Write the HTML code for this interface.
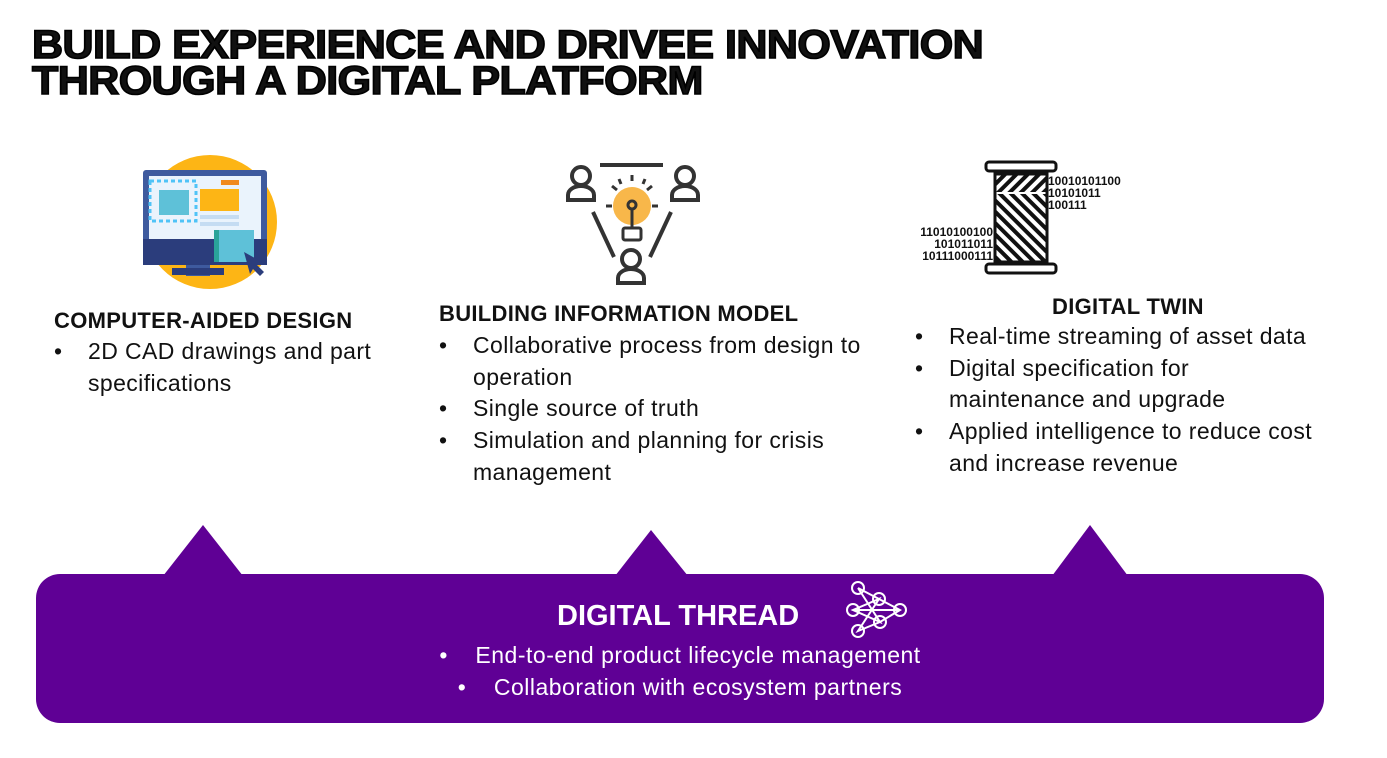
<!DOCTYPE html>
<html><head><meta charset="utf-8"><style>
body{margin:0;width:1387px;height:758px;background:#fff;position:relative;overflow:hidden;font-family:"Liberation Sans",sans-serif;color:#111}
.t{position:absolute;left:32px;font-weight:900;font-size:40px;line-height:36px;letter-spacing:-0.5px;-webkit-text-stroke:1.6px #000;transform-origin:0 0;white-space:nowrap}
.h{position:absolute;font-weight:bold;font-size:22px;letter-spacing:0.3px;white-space:nowrap}
.l{position:absolute;font-size:23px;letter-spacing:0.4px;line-height:31.7px;margin:0;padding:0;list-style:none;white-space:nowrap}
.l li{position:relative;padding-left:34px}
.l li:before{content:"•";position:absolute;left:0}
</style></head><body>
<div class="t" style="top:27px;transform:scaleX(1.075)">BUILD EXPERIENCE AND DRIVEE INNOVATION<br>THROUGH A DIGITAL PLATFORM</div>

<svg width="1387" height="758" style="position:absolute;left:0;top:0">
<circle cx="210" cy="222" r="67" fill="#fdb515"/>
<rect x="143" y="170" width="124" height="95" rx="3" fill="#3e5a9e"/>
<rect x="149" y="176" width="112" height="63" fill="#eaf3fc"/>
<rect x="143" y="239" width="124" height="26" fill="#2b3d7c"/>
<rect x="186" y="265" width="24" height="11" fill="#3e5a9e"/>
<rect x="172" y="268" width="52" height="7" fill="#2b3d7c"/>
<rect x="159" y="190" width="30" height="25" fill="#5ec1d8"/>
<rect x="150" y="181" width="46" height="40" fill="none" stroke="#4fc3f7" stroke-width="3" stroke-dasharray="4 3"/>
<rect x="200" y="189" width="39" height="22" fill="#fdb515"/>
<rect x="200" y="215" width="39" height="4" fill="#c5dcf2"/><rect x="200" y="222" width="39" height="4" fill="#c5dcf2"/>
<rect x="221" y="180" width="18" height="5" fill="#f08a1e"/>
<rect x="214" y="230" width="40" height="32" fill="#5ec1d8"/>
<rect x="214" y="230" width="5" height="32" fill="#2aa39a"/>
<path d="M244 252 L262 262 L257 265 L264 272 L260 276 L253 269 L250 274Z" fill="#2b3d7c"/>
<g stroke="#333" stroke-width="4" fill="none">
<line x1="600" y1="165" x2="663" y2="165"/>
<circle cx="581" cy="176" r="9"/><path d="M568 200 v-5 a13 9 0 0 1 26 0 v5z"/>
<circle cx="685" cy="176" r="9"/><path d="M672 200 v-5 a13 9 0 0 1 26 0 v5z"/>
<circle cx="631" cy="259" r="9"/><path d="M618 283 v-5 a13 9 0 0 1 26 0 v5z"/>
<line x1="593" y1="212" x2="614" y2="257"/><line x1="671" y1="212" x2="650" y2="257"/>
</g>
<circle cx="632" cy="206" r="19" fill="#f8b74a"/>
<g stroke="#333" stroke-width="3" fill="none">
<circle cx="632" cy="205" r="4"/><line x1="632" y1="209" x2="632" y2="228"/>
<rect x="623" y="228" width="18" height="12" rx="2"/>
<line x1="632" y1="175" x2="632" y2="181"/><line x1="612" y1="206" x2="606" y2="206"/><line x1="652" y1="206" x2="658" y2="206"/>
<line x1="617" y1="190" x2="612" y2="186"/><line x1="647" y1="190" x2="652" y2="186"/>
<line x1="619" y1="179" x2="621" y2="184"/><line x1="645" y1="179" x2="643" y2="184"/>
</g>
<defs><pattern id="hp" width="8" height="8" patternUnits="userSpaceOnUse" patternTransform="rotate(45)"><rect width="4" height="8" fill="#111"/></pattern>
<pattern id="hn" width="8" height="8" patternUnits="userSpaceOnUse" patternTransform="rotate(-45)"><rect width="4" height="8" fill="#111"/></pattern></defs>
<rect x="986" y="162" width="70" height="9" rx="3" fill="none" stroke="#111" stroke-width="3"/>
<rect x="986" y="264" width="70" height="9" rx="3" fill="none" stroke="#111" stroke-width="3"/>
<rect x="995" y="174" width="52" height="88" fill="#fff" stroke="#111" stroke-width="3"/>
<rect x="996" y="175" width="50" height="17" fill="url(#hp)"/>
<rect x="996" y="194" width="50" height="67" fill="url(#hn)"/>
<g font-weight="bold" font-size="12" fill="#111" font-family="Liberation Sans">
<text x="1048" y="185">10010101100</text><text x="1048" y="197">10101011</text><text x="1048" y="209">100111</text>
<text x="993" y="236" text-anchor="end">11010100100</text><text x="993" y="248" text-anchor="end">101011011</text><text x="993" y="260" text-anchor="end">10111000111</text>
</g>
<g fill="#5f0095">
<rect x="36" y="574" width="1288" height="149" rx="24"/>
<polygon points="163,576 203,525 243,576"/>
<polygon points="615,576 651,530 688,576"/>
<polygon points="1052,576 1090,525 1128,576"/>
</g>
<g stroke="#fff" stroke-width="2" fill="none">
<circle cx="858" cy="588" r="6"/><circle cx="879" cy="599" r="6"/><circle cx="853" cy="610" r="6"/><circle cx="900" cy="610" r="6"/><circle cx="880" cy="622" r="6"/><circle cx="858" cy="631" r="6"/>
<path d="M858 588 L879 599 L900 610 L880 622 L858 631 L879 599 L853 610 L880 622 L858 588 M853 610 L900 610"/>
</g>
</svg>

<div class="h" style="left:54px;top:308px">COMPUTER-AIDED DESIGN</div>
<ul class="l" style="left:54px;top:336px"><li>2D CAD drawings and part<br>specifications</li></ul>

<div class="h" style="left:439px;top:301px">BUILDING INFORMATION MODEL</div>
<ul class="l" style="left:439px;top:330px"><li>Collaborative process from design to<br>operation</li><li>Single source of truth</li><li>Simulation and planning for crisis<br>management</li></ul>

<div class="h" style="left:1052px;top:294px">DIGITAL TWIN</div>
<ul class="l" style="left:915px;top:321px"><li>Real-time streaming of asset data</li><li>Digital specification for<br>maintenance and upgrade</li><li>Applied intelligence to reduce cost<br>and increase revenue</li></ul>

<div style="position:absolute;left:557px;top:600px;color:#fff;font-weight:bold;font-size:29px">DIGITAL THREAD</div>
<div style="position:absolute;left:0;width:1360px;top:639px;color:#fff;font-size:23px;letter-spacing:0.5px;line-height:32px;text-align:center">•&nbsp;&nbsp;&nbsp;&nbsp;End-to-end product lifecycle management<br>•&nbsp;&nbsp;&nbsp;&nbsp;Collaboration with ecosystem partners</div>
</body></html>
